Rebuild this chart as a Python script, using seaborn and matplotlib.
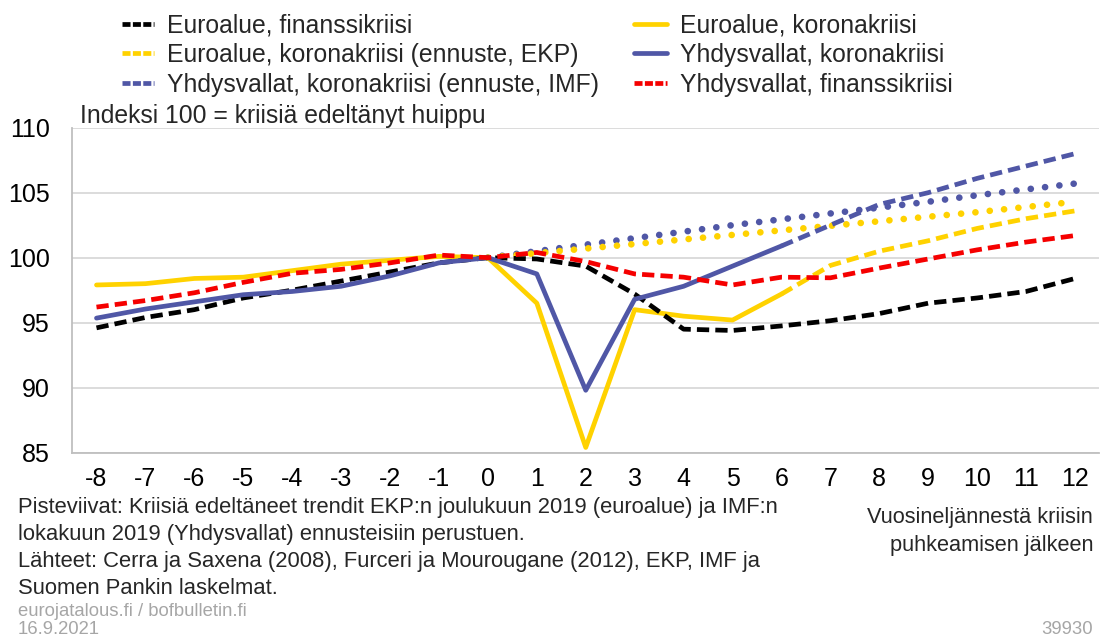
import numpy as np
import pandas as pd
import seaborn as sns
import matplotlib.pyplot as plt
from matplotlib.lines import Line2D
from matplotlib.ticker import FixedLocator

sns.set_style("white")
plt.rcParams['font.family'] = ['Liberation Sans', 'DejaVu Sans']
plt.rcParams['axes.unicode_minus'] = False

# quarters from the start of the crisis
x_all = list(range(-8, 13))
x_korona = list(range(-8, 7))
x_ennuste = list(range(6, 13))
x_trendi = list(range(0, 13))

# Euroalue, finanssikriisi
ea_fin = [94.6, 95.4, 96.0, 96.9, 97.5, 98.2, 98.9, 99.6, 100.0, 99.9, 99.35,
          97.2, 94.5, 94.4, 94.75, 95.15, 95.7, 96.5, 96.9, 97.4, 98.4]
# Yhdysvallat, finanssikriisi
us_fin = [96.2, 96.7, 97.3, 98.1, 98.8, 99.1, 99.6, 100.2, 100.0, 100.4, 99.7,
          98.75, 98.5, 97.9, 98.5, 98.45, 99.2, 99.9, 100.6, 101.2, 101.7]
# Euroalue, koronakriisi
ea_kor = [97.9, 98.0, 98.4, 98.5, 99.0, 99.5, 99.8, 100.1, 100.0, 96.5, 85.4,
          96.0, 95.5, 95.2, 97.2]
# Yhdysvallat, koronakriisi
us_kor = [95.35, 96.05, 96.6, 97.15, 97.4, 97.8, 98.6, 99.6, 100.0, 98.75, 89.8,
          96.8, 97.8, 99.35, 100.9]
# ennusteet
ea_ennuste = [97.2, 99.4, 100.5, 101.3, 102.25, 103.0, 103.6]
us_ennuste = [100.9, 102.5, 104.1, 105.0, 106.1, 107.05, 108.0]
# kriisiä edeltäneet trendit (pisteviivat)
ea_trendi = [100.0, 100.35, 100.7, 101.05, 101.4, 101.75, 102.1, 102.45, 102.8,
             103.15, 103.5, 103.9, 104.3]
us_trendi = [100.0, 100.5, 101.0, 101.5, 102.0, 102.5, 102.95, 103.4, 103.85,
             104.3, 104.8, 105.25, 105.7]

labels = ["Euroalue, finanssikriisi", "Euroalue, koronakriisi (ennuste, EKP)",
          "Yhdysvallat, koronakriisi (ennuste, IMF)", "Euroalue, koronakriisi",
          "Yhdysvallat, koronakriisi", "Yhdysvallat, finanssikriisi"]

YEL = "#FFD200"
BLU = "#5057A6"
RED = "#F50000"
BLK = "#000000"
dash = (0, (2.6, 1.3))
dot = (0, (0.01, 2.15))

fig = plt.figure(figsize=(11.03, 6.39), dpi=100)
ax = fig.add_axes([0.0653, 0.2916, 0.9315, 0.5086])

lw = 3.4
sns.lineplot(x=x_trendi, y=us_trendi, ax=ax, color=BLU, lw=4.8, linestyle=dot,
             dash_capstyle='round')
sns.lineplot(x=x_trendi, y=ea_trendi, ax=ax, color=YEL, lw=4.8, linestyle=dot,
             dash_capstyle='round')
sns.lineplot(x=x_korona, y=ea_kor, ax=ax, color=YEL, lw=lw)
sns.lineplot(x=x_ennuste, y=ea_ennuste, ax=ax, color=YEL, lw=lw, linestyle=dash)
sns.lineplot(x=x_all, y=ea_fin, ax=ax, color=BLK, lw=lw, linestyle=dash)
sns.lineplot(x=x_korona, y=us_kor, ax=ax, color=BLU, lw=lw)
sns.lineplot(x=x_ennuste, y=us_ennuste, ax=ax, color=BLU, lw=lw, linestyle=dash)
sns.lineplot(x=x_all, y=us_fin, ax=ax, color=RED, lw=lw, linestyle=dash)

ax.set_xlim(-8.5, 12.5)
ax.set_ylim(85, 110)
ax.set_yticks([85, 90, 95, 100, 105, 110])
ax.set_xticks(x_all)
ax.xaxis.set_minor_locator(FixedLocator(np.arange(-7.5, 12, 1.0)))
ax.tick_params(axis='x', which='major', length=0, pad=10, labelsize=18, colors='black')
ax.tick_params(axis='x', which='minor', length=8, width=1, direction='in', color='#bfbfbf')
ax.tick_params(axis='y', length=0, pad=16, labelsize=18, colors='black')
ax.grid(axis='y', color='#d9d9d9', lw=1.3)
for s in ['top', 'right']:
    ax.spines[s].set_visible(False)
for s in ['left', 'bottom']:
    ax.spines[s].set_color('#bfbfbf')
    ax.spines[s].set_linewidth(1.3)
ax.set_xlabel('')
ax.set_ylabel('')

handles = [Line2D([], [], color=BLK, lw=lw, linestyle=(0, (1.7, 0.5))),
           Line2D([], [], color=YEL, lw=lw, linestyle=(0, (1.7, 0.5))),
           Line2D([], [], color=BLU, lw=lw, linestyle=(0, (1.7, 0.5))),
           Line2D([], [], color=YEL, lw=lw),
           Line2D([], [], color=BLU, lw=lw),
           Line2D([], [], color=RED, lw=lw, linestyle=(0, (1.7, 0.5)))]
fig.legend(handles, labels, ncol=2, loc='upper left', bbox_to_anchor=(0.0905, 1.014),
           frameon=False, fontsize=17.8, handlelength=1.3, handletextpad=0.53,
           columnspacing=1.42, labelspacing=0.235)

fig.text(0.0725, 0.819, "Indeksi 100 = kriisiä edeltänyt huippu", fontsize=17.8,
         va='center')

notes = ["Pisteviivat: Kriisiä edeltäneet trendit EKP:n joulukuun 2019 (euroalue) ja IMF:n",
         "lokakuun 2019 (Yhdysvallat) ennusteisiin perustuen.",
         "Lähteet: Cerra ja Saxena (2008), Furceri ja Mourougane (2012), EKP, IMF ja",
         "Suomen Pankin laskelmat."]
for i, line in enumerate(notes):
    fig.text(0.016, 1 - (507 + 27.3 * i) / 639, line, fontsize=15.85, va='center')
akseli = ["Vuosineljännestä kriisin", "puhkeamisen jälkeen"]
for i, line in enumerate(akseli):
    fig.text(0.991, 1 - (518 + 27.3 * i) / 639, line, fontsize=15.7, va='center',
             ha='right')
fig.text(0.016, 1 - 612 / 639, "eurojatalous.fi / bofbulletin.fi", fontsize=13.3,
         color='#a6a6a6', va='center')
fig.text(0.016, 1 - 630 / 639, "16.9.2021", fontsize=13.3, color='#a6a6a6', va='center')
fig.text(0.991, 1 - 630 / 639, "39930", fontsize=13.3, color='#a6a6a6', va='center',
         ha='right')

fig.savefig("out.png", dpi=100)
